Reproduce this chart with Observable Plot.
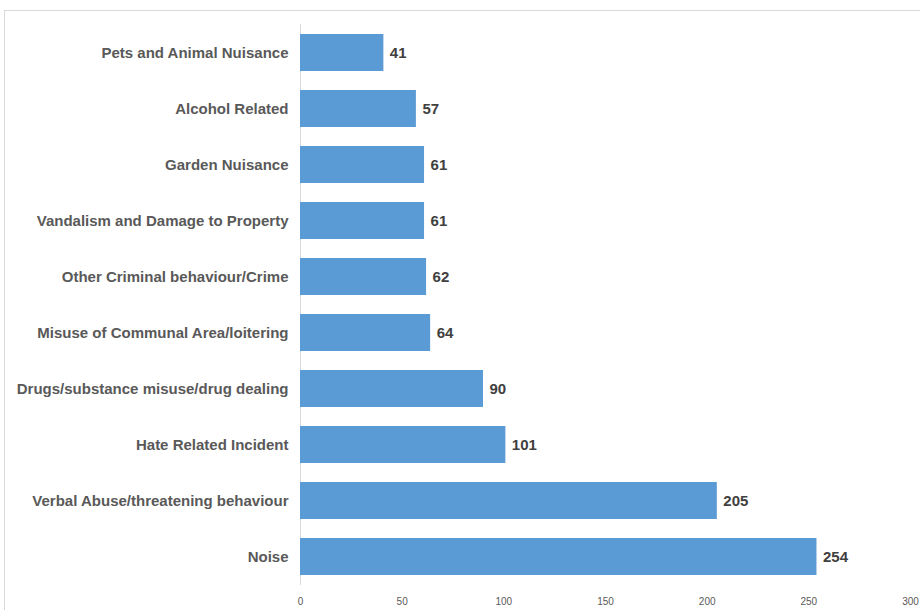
<!DOCTYPE html>
<html>
<head>
<meta charset="utf-8">
<script src="https://cdn.jsdelivr.net/npm/d3@7"></script>
<script src="https://cdn.jsdelivr.net/npm/@observablehq/plot@0.6"></script>
<style>
  html, body { margin: 0; padding: 0; background: #fff; }
  #wrap { position: relative; width: 920px; height: 610px; overflow: hidden; }
  #frame { position: absolute; left: 4px; top: 10px; width: 1000px; height: 1000px;
           border-left: 1px solid #d9d9d9; border-top: 1px solid #d9d9d9; pointer-events: none; }
  #wrap svg { position: absolute; left: 0; top: 0; }
</style>
</head>
<body>
<div id="wrap"><div id="frame"></div></div>
<script>
const categories = [
  "Pets and Animal Nuisance",
  "Alcohol Related",
  "Garden Nuisance",
  "Vandalism and Damage to Property",
  "Other Criminal behaviour/Crime",
  "Misuse of Communal Area/loitering",
  "Drugs/substance misuse/drug dealing",
  "Hate Related Incident",
  "Verbal Abuse/threatening behaviour",
  "Noise"
];
const values = [41, 57, 61, 61, 62, 64, 90, 101, 205, 254];
const xTicks = [0, 50, 100, 150, 200, 250, 300];

const data = categories.map((c, i) => ({category: c, value: values[i]}));

const chart = Plot.plot({
  width: 920,
  height: 610,
  marginLeft: 300,
  marginRight: 10,
  marginTop: 24,
  marginBottom: 25,
  style: {fontFamily: "'Liberation Sans', Arial, sans-serif", background: "transparent"},
  x: {domain: [0, 300], ticks: xTicks, label: null},
  y: {domain: categories, paddingInner: 0.34, paddingOuter: 0.17, label: null},
  marks: [
    Plot.ruleX([0], {stroke: "#d9d9d9", strokeWidth: 1}),
    Plot.barX(data, {x: "value", y: "category", fill: "#5b9bd5"}),
    Plot.text(data, {x: "value", y: "category", text: d => String(d.value), textAnchor: "start", dx: 6,
      fill: "#404040", fontWeight: "bold", fontSize: 15}),
    Plot.axisY({tickSize: 0, tickPadding: 12, fontSize: 15, fontWeight: "bold", color: "#595959", label: null}),
    Plot.axisX({ticks: xTicks, tickSize: 0, tickPadding: 12, fontSize: 10, color: "#595959", label: null})
  ]
});
document.getElementById("wrap").appendChild(chart);
</script>
</body>
</html>
